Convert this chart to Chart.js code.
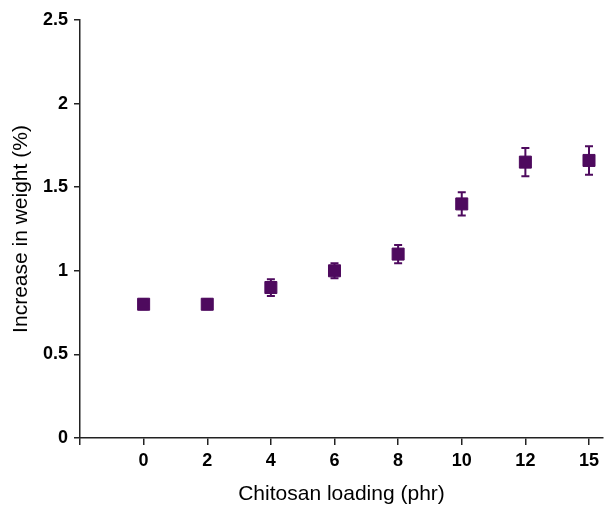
<!DOCTYPE html>
<html>
<head>
<meta charset="utf-8">
<script src="https://cdn.jsdelivr.net/npm/chart.js@4"></script>
<style>
  body { margin: 0; background: #fff; }
  #wrap { width: 605px; height: 510px; }
</style>
</head>
<body>
<div id="wrap"><canvas id="myChart" width="605" height="510"></canvas></div>
<script>
const loading = ['0', '2', '4', '6', '8', '10', '12', '15'];
const weightGain = [0.80, 0.80, 0.90, 1.00, 1.10, 1.40, 1.65, 1.66];
const weightErr = [0.03, 0.03, 0.05, 0.045, 0.055, 0.07, 0.085, 0.085];
const yTicks = [0, 0.5, 1, 1.5, 2, 2.5];

const purple = '#4e0a5e';

// error bars drawn behind the markers
const errorBars = {
    id: 'errorBars',
    beforeDatasetsDraw(chart) {
        const ctx = chart.ctx;
        const y = chart.scales.y;
        const meta = chart.getDatasetMeta(0);
        ctx.save();
        ctx.strokeStyle = purple;
        ctx.lineWidth = 2;
        meta.data.forEach((pt, i) => {
            const top = y.getPixelForValue(weightGain[i] + weightErr[i]);
            const bot = y.getPixelForValue(weightGain[i] - weightErr[i]);
            ctx.beginPath();
            ctx.moveTo(pt.x, top);
            ctx.lineTo(pt.x, bot);
            ctx.moveTo(pt.x - 4, top);
            ctx.lineTo(pt.x + 4, top);
            ctx.moveTo(pt.x - 4, bot);
            ctx.lineTo(pt.x + 4, bot);
            ctx.stroke();
        });
        ctx.restore();
    }
};

var ctx = document.getElementById('myChart').getContext('2d');
const chart = new Chart(ctx, {
    type: 'scatter',
    data: {
        datasets: [{
            data: weightGain.map((v, i) => ({ x: i, y: v })),
            backgroundColor: purple,
            borderColor: purple,
            borderWidth: 1,
            pointStyle: 'rect',
            pointRadius: 8.5,
            pointHoverRadius: 8.5
        }]
    },
    options: {
        responsive: false,
        animation: false,
        events: [],
        layout: { autoPadding: false, padding: { top: 20, right: 2, left: 0, bottom: 0 } },
        plugins: { legend: { display: false }, tooltip: { enabled: false } },
        scales: {
            x: {
                type: 'linear',
                min: -1,
                max: 7.22,
                afterBuildTicks: (scale) => {
                    scale.ticks = [-1, 0, 1, 2, 3, 4, 5, 6, 7].map(v => ({ value: v }));
                },
                afterFit: (scale) => {
                    scale.height = 72;
                    scale.paddingLeft = 0;
                    scale.paddingRight = 0;
                },
                grid: { drawOnChartArea: false, drawTicks: true, tickLength: 7, color: '#222', lineWidth: 1.5 },
                border: { display: true, color: '#222', width: 1.5 },
                ticks: {
                    color: '#000',
                    padding: 5,
                    font: { family: 'Liberation Sans', size: 18, weight: 'bold' },
                    callback: (v) => loading[v] !== undefined ? loading[v] : ''
                },
                title: {
                    display: true,
                    text: 'Chitosan loading (phr)',
                    color: '#000',
                    padding: { top: 0, bottom: 3 },
                    font: { family: 'Liberation Sans', size: 21 }
                }
            },
            y: {
                min: 0,
                max: 2.5,
                afterBuildTicks: (scale) => {
                    scale.ticks = yTicks.map(v => ({ value: v }));
                },
                afterFit: (scale) => {
                    scale.width = 80;
                    scale.paddingTop = 0;
                    scale.paddingBottom = 0;
                },
                grid: { drawOnChartArea: false, drawTicks: true, tickLength: 6, color: '#222', lineWidth: 1.5 },
                border: { display: true, color: '#222', width: 1.5 },
                ticks: {
                    color: '#000',
                    padding: 6,
                    font: { family: 'Liberation Sans', size: 18, weight: 'bold' },
                    callback: (v) => String(v)
                },
                title: {
                    display: true,
                    text: 'Increase in weight (%)',
                    color: '#000',
                    padding: { top: 9, bottom: 0 },
                    font: { family: 'Liberation Sans', size: 21 }
                }
            }
        }
    },
    plugins: [errorBars]
});
</script>
</body>
</html>
